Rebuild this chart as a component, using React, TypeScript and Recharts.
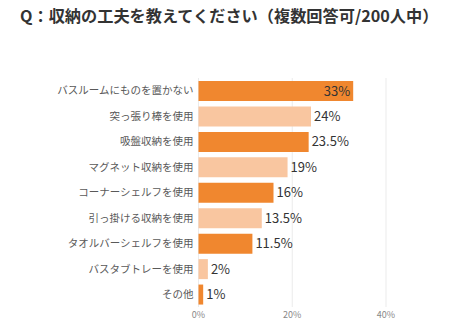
import { BarChart, Bar, XAxis, YAxis, CartesianGrid, Cell, LabelList } from "recharts";

const TITLE = "Q：収納の工夫を教えてください（複数回答可/200人中）";

const categories = [
  "バスルームにものを置かない",
  "突っ張り棒を使用",
  "吸盤収納を使用",
  "マグネット収納を使用",
  "コーナーシェルフを使用",
  "引っ掛ける収納を使用",
  "タオルバーシェルフを使用",
  "バスタブトレーを使用",
  "その他",
];

const percents = [33, 24, 23.5, 19, 16, 13.5, 11.5, 2, 1];

const xTicks = [0, 20, 40];

const DARK = "#F0872F";
const LIGHT = "#F9C6A0";
const FONT = "'Noto Sans CJK JP', 'Noto Sans', sans-serif";

const data = categories.map((name, i) => ({ name, value: percents[i] }));

function ValueLabel(props: any) {
  const { x, y, width, height, value, index } = props;
  const inside = index === 0;
  return (
    <text
      x={inside ? x + width - 3 : x + width + 3}
      y={y + height / 2 - 1}
      textAnchor={inside ? "end" : "start"}
      dominantBaseline="central"
      fontSize={13}
      fill="#333"
      fontFamily={FONT}
    >
      {value}%
    </text>
  );
}

export default function App() {
  return (
    <div style={{ position: "absolute", left: 0, top: 0, width: 455, height: 335, background: "#fff", fontFamily: FONT }}>
      <div
        style={{
          position: "absolute",
          left: 20,
          top: 4,
          fontSize: 16.2,
          fontWeight: 700,
          color: "#333",
          lineHeight: "22px",
          whiteSpace: "nowrap",
        }}
      >
        {TITLE}
      </div>
      <div style={{ position: "absolute", left: 0, top: 0 }}>
        <BarChart
          width={455}
          height={335}
          data={data}
          layout="vertical"
          margin={{ top: 78, right: 69, bottom: 8, left: 0 }}
        >
          <CartesianGrid horizontal={false} stroke="#ebebeb" />
          <XAxis
            type="number"
            domain={[0, 40]}
            ticks={xTicks}
            tickFormatter={(v) => `${v}%`}
            axisLine={false}
            tickLine={false}
            tickSize={0}
            tickMargin={5}
            height={20}
            tick={{ fill: "#888", fontSize: 9, fontFamily: FONT }}
          />
          <YAxis
            type="category"
            dataKey="name"
            width={198.5}
            axisLine={false}
            tickLine={false}
            tickSize={0}
            tickMargin={5}
            interval={0}
            tick={{ fill: "#595959", fontSize: 10.5, fontFamily: FONT }}
          />
          <Bar dataKey="value" barSize={20} isAnimationActive={false}>
            {data.map((_, i) => (
              <Cell key={i} fill={i % 2 === 0 ? DARK : LIGHT} />
            ))}
            <LabelList dataKey="value" content={ValueLabel} />
          </Bar>
        </BarChart>
      </div>
    </div>
  );
}
